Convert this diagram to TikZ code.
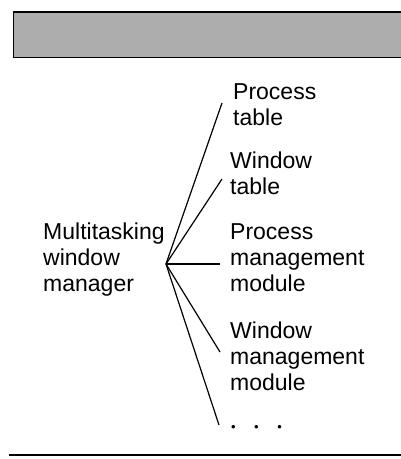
\documentclass[tikz,border=0pt]{standalone}
\usepackage{fontspec}
\setmainfont{Liberation Sans}
\newcommand{\lbl}[1]{\begin{tabular}[t]{@{}l@{}}#1\end{tabular}}
\begin{document}
\begin{tikzpicture}[x=1pt,y=-1pt,
  label text/.style={anchor=base west,inner sep=0pt,
    font=\fontsize{23}{26}\selectfont},
  branch/.style={line width=1.2pt}]
\useasboundingbox (0,0) rectangle (401,459);
% shaded title banner
\draw[line width=1.8pt,fill=black!32] (13.5,12) rectangle (405,57.5);
% closing rule
\draw[line width=2.2pt] (9,455) -- (405,455);
% root and leaves
\node[label text] (root) at (43,239) {\lbl{Multitasking\\window\\manager}};
\coordinate (hub) at (166,264);
\node[label text] (ptab) at (233,99) {\lbl{Process\\table}};
\node[label text] (wtab) at (230,168) {\lbl{Window\\table}};
\node[label text] (pmod) at (230,239) {\lbl{Process\\management\\module}};
\node[label text] (wmod) at (230,338) {\lbl{Window\\management\\module}};
\node[label text,font=\fontsize{13}{13}\selectfont] (more) at (231,431)
  {\textbullet\hspace{18.5pt}\textbullet\hspace{18.5pt}\textbullet};
% branch ends
\coordinate (eptab) at (222,103);
\coordinate (ewtab) at (222,179);
\coordinate (epmod) at (220,264);
\coordinate (ewmod) at (220,352);
\coordinate (emore) at (219,425);
\foreach \e in {eptab,ewtab,epmod,ewmod,emore}
  \draw[branch] (hub) -- (\e);
\end{tikzpicture}
\end{document}
